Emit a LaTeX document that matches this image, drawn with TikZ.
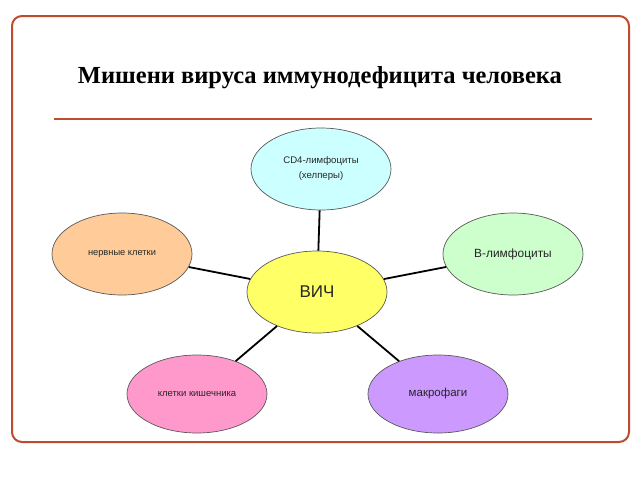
\documentclass[tikz,border=0pt]{standalone}
\usepackage{fontspec}
\setmainfont{Liberation Serif}
\setsansfont{Liberation Sans}
\usetikzlibrary{shapes.geometric}
\definecolor{frame}{RGB}{190,75,45}
\definecolor{fcyan}{RGB}{204,255,255}
\definecolor{fpeach}{RGB}{255,204,153}
\definecolor{fgreen}{RGB}{204,255,204}
\definecolor{fyellow}{RGB}{255,255,102}
\definecolor{fpink}{RGB}{255,153,204}
\definecolor{flav}{RGB}{204,153,255}
\tikzset{
  cell/.style={ellipse, draw=black!65, line width=0.7pt, minimum width=140pt, minimum height=82pt, inner sep=0pt, align=center, font=\sffamily\fontsize{9.6}{15}\selectfont, text=black!85},
  link/.style={line width=1.8pt, black}
}
\begin{document}
\begin{tikzpicture}[x=1pt,y=-1pt]
\useasboundingbox (0,0) rectangle (640,480);
\fill[white] (0,0) rectangle (640,480);
\draw[frame, line width=2pt, rounded corners=10pt] (12,16) rectangle (629,442);
\node[font=\bfseries\fontsize{24.5}{28}\selectfont] (title) at (320,78) {Мишени вируса иммунодефицита человека};
\draw[frame, line width=2.5pt] (54,119) -- (592,119);
\node[cell, fill=fyellow, font=\sffamily\fontsize{17}{20}\selectfont] (hiv) at (317,292) {ВИЧ};
\node[cell, fill=fcyan] (cd4) at (321,169) {CD4-лимфоциты\\(хелперы)};
\node[cell, fill=fpeach, font=\sffamily\fontsize{9.3}{12}\selectfont] (nerve) at (122,254) {нервные клетки};
\node[cell, fill=fgreen, font=\sffamily\fontsize{11.9}{15}\selectfont] (blym) at (513,254) {B-лимфоциты};
\node[cell, fill=fpink, minimum height=78pt, font=\sffamily\fontsize{9.5}{12}\selectfont] (gut) at (197,394) {клетки кишечника};
\node[cell, fill=flav, minimum height=78pt, font=\sffamily\fontsize{11.5}{14}\selectfont] (macro) at (438,394) {макрофаги};
\draw[link] (hiv) -- (cd4);
\draw[link] (hiv) -- (nerve);
\draw[link] (hiv) -- (blym);
\draw[link] (hiv) -- (gut);
\draw[link] (hiv) -- (macro);
\end{tikzpicture}
\end{document}
